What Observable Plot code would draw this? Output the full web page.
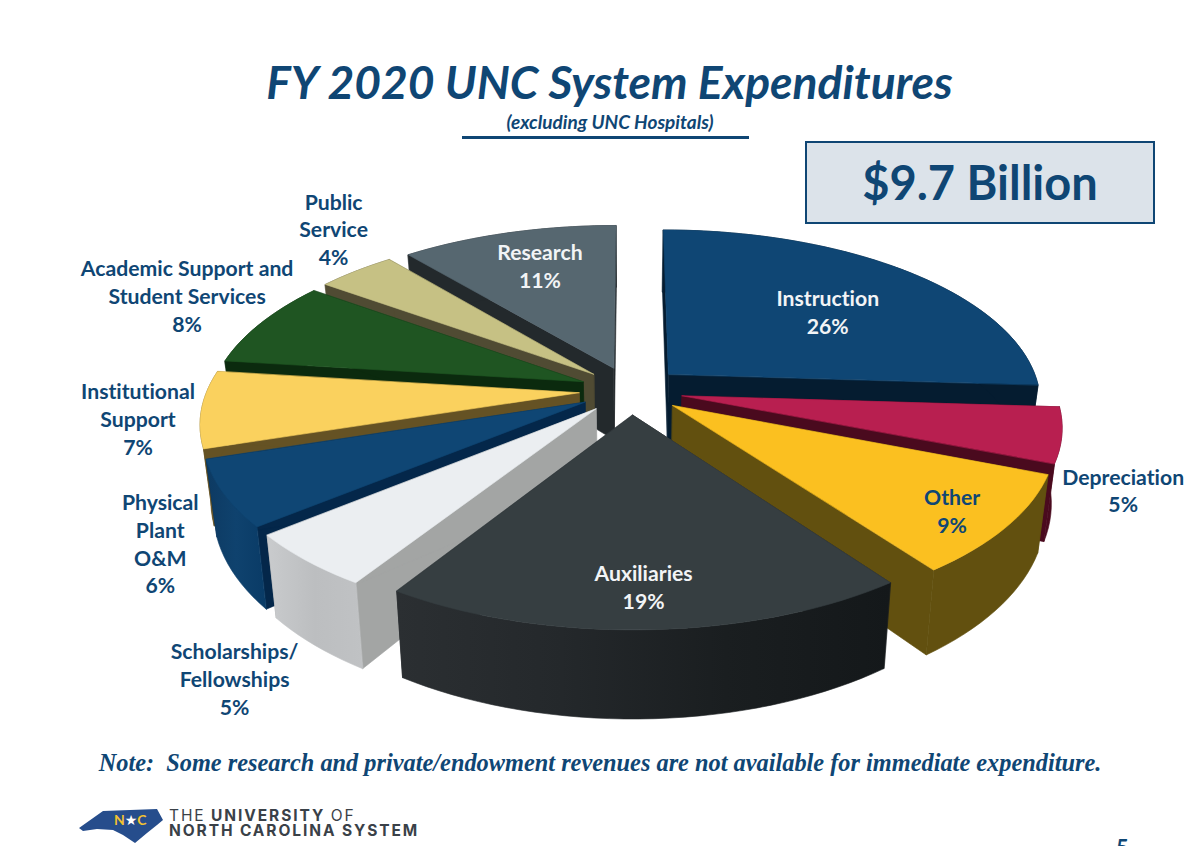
<!DOCTYPE html>
<html>
<head>
<meta charset="utf-8">
<script src="https://cdn.jsdelivr.net/npm/d3@7"></script>
<script src="https://cdn.jsdelivr.net/npm/@observablehq/plot@0.6"></script>
<style>
  html,body{margin:0;padding:0;background:#fff;width:1200px;height:846px;overflow:hidden;position:relative;font-variant-ligatures:none}
  #head{position:relative;height:135px}
  #title{position:absolute;left:0;width:1219px;top:51px;text-align:center;font:italic 700 46.2px Lato;color:#0f4674;line-height:60px}
  #sub{position:absolute;left:0;width:1220px;top:110px;text-align:center;font:italic 700 19px Lato;color:#0f4674;line-height:24px}
  #rule{position:absolute;left:462px;width:287px;top:136px;height:3px;background:#0f4674}
  #box{position:absolute;left:805px;top:141px;width:346px;height:79px;background:#dce3ea;border:2px solid #0f4674;text-align:center;font:700 47px/79px Lato;color:#0f4674}
  #chart{position:absolute;left:0;top:135px}
  #chart svg{display:block}
  #note{position:absolute;left:0;width:1200px;top:748px;text-align:center;font:italic 700 24.35px "Liberation Serif";color:#0f4674;line-height:30px}
  #logo{position:absolute;left:0;top:800px}
  .brand{position:absolute;left:169px;top:808px;font:700 15.5px/15px Inter;color:#3a4148;white-space:nowrap;letter-spacing:1.9px}
  .brand span{font-weight:400}
  #page{position:absolute;left:1116px;top:834px;font:700 22px Lato;color:#0f4674}
</style>
</head>
<body>
<div id="head">
  <div id="title">FY 2020 UNC System Expenditures</div>
  <div id="sub">(excluding UNC Hospitals)</div>
  <div id="rule"></div>
</div>
<div id="chart"></div>
<div id="box">$9.7 Billion</div>
<div id="note">Note:&nbsp; Some research and private/endowment revenues are not available for immediate expenditure.</div>
<svg id="logo" width="170" height="46" viewBox="0 800 170 46">
  <path d="M79 828 L103 811 L157 809 L163 820 L157 825 L147 833 L135 843 L123 835 L113 830 L97 829 L83 831 Z" fill="#264d8c"/>
  <text x="119.5" y="825" font-family="Lato" font-weight="700" font-size="14" fill="#f2c230" text-anchor="middle">N</text>
  <text x="131" y="825" font-family="DejaVu Sans" font-size="14" fill="#fff" text-anchor="middle">★</text>
  <text x="142" y="825" font-family="Lato" font-weight="700" font-size="14" fill="#f2c230" text-anchor="middle">C</text>
</svg>
<div class="brand"><span>THE</span> UNIVERSITY <span>OF</span><br>NORTH CAROLINA SYSTEM</div>
<div id="page">5</div>

<script>
// ---- data ----
const categories = ["Instruction","Depreciation","Other","Auxiliaries","Scholarships/\nFellowships",
  "Physical\nPlant\nO&M","Institutional\nSupport","Academic Support and\nStudent Services","Public\nService","Research"];
const shares = [26,5,9,19,5,6,7,8,4,11];
const topColors  = ["#0f4674","#b81f50","#fbc020","#363e41","#ebeef1","#0f4674","#fad15e","#1f5522","#c6c184","#566770"];
const sideColors = ["#051c30","#4a0a1e","#62500f","#23272a","#a3a5a4","#04274a","#655224","#0b2a0e","#504b33","#23292c"];
const rimColors  = ["#051c30","#4a0a1e","#62500f","url(#rimAux)","url(#rimSch)","url(#rimPhy)","#655224","#0b2a0e","#504b33","#23292c"];
const labelColors = ["#f2f4f6","#0f4674","#0f4674","#f2f4f6","#0f4674","#0f4674","#0f4674","#0f4674","#0f4674","#f2f4f6"];

// ---- view of the tilted pie ----
const view = {cx:630.5, cy:390, rx:372, ry:172, dist:6.3, explode:0.14, height:73, shrink:0.975};
// where each label sits: radius along the slice's middle, then a small nudge
const labelRadius = [0.6,1.16,0.86,0.81,1.16,1.21,1.16,1.16,1.16,0.71];
const labelNudge = [[11,1],[-2,48],[-4.5,3],[-0.5,3.5],[-18,89],[20,27.5],[-2,6],[-26,-19],[11.5,-28],[4,-3]];
// painter's order, back to front (indices into the arrays above)
const drawOrder = [9,0,8,7,6,5,1,2,4,3];

const rad = d => d * Math.PI / 180;
const total = d3.sum(shares);
const ends = d3.cumsum(shares).map(c => c / total * 360);
const slices = shares.map((s,i) => {
  const a0 = i ? ends[i-1] : 0, a1 = ends[i];
  return {i, a0, a1, mid:(a0+a1)/2};
});
function project(slice, angle, r, low) {
  const m = rad(slice.mid), t = rad(angle);
  const u = r*Math.sin(t) + view.explode*Math.sin(m);
  const v = -r*Math.cos(t) - view.explode*Math.cos(m);
  const s = view.dist/(view.dist - v);
  let X = u*s*view.rx, Y = v*s*view.ry;
  if (low) { X *= view.shrink; Y += view.height*s; }
  return [view.cx + X, view.cy + Y];
}
function arc(slice, low) {
  const n = Math.max(4, Math.ceil((slice.a1-slice.a0)/2));
  return d3.range(n+1).map(k => project(slice, slice.a0+(slice.a1-slice.a0)*k/n, 1, low));
}
const face = (pts, fill) => Plot.line(pts, {x:d=>d[0], y:d=>d[1], fill, stroke:fill, strokeWidth:0.6, curve:"linear-closed"});

const marks = [
  () => {
    const svg = d3.create("svg:defs");
    const grad = (id, stops) => {
      const g = svg.append("linearGradient").attr("id", id);
      stops.forEach((c,k) => g.append("stop").attr("offset", k/(stops.length-1)).attr("stop-color", c));
    };
    grad("rimAux", ["#2b2f32","#24282b","#1a1e20","#14181a"]);
    grad("rimSch", ["#c9cbcd","#bcbec0","#c0c2c4"]);
    grad("rimPhy", ["#0d3a62","#0f426e","#093b66"]);
    return svg.node();
  }
];
for (const idx of drawOrder) {
  const sl = slices[idx];
  const apexT = project(sl, 0, 0, false), apexB = project(sl, 0, 0, true);
  const topArc = arc(sl,false), lowArc = arc(sl,true);
  const first = topArc[0], last = topArc[topArc.length-1];
  const firstB = lowArc[0], lastB = lowArc[lowArc.length-1];
  marks.push(face([apexT, first, firstB, apexB], sideColors[idx]));
  marks.push(face([apexT, last, lastB, apexB], sideColors[idx]));
  marks.push(face([...topArc, ...lowArc.slice().reverse()], rimColors[idx]));
  marks.push(face([apexT, ...topArc], topColors[idx]));
}
const labels = slices.map(sl => {
  const p = project(sl, sl.mid, labelRadius[sl.i], false);
  return {x:p[0]+labelNudge[sl.i][0], y:p[1]+labelNudge[sl.i][1],
          text:`${categories[sl.i]}\n${shares[sl.i]}%`, color:labelColors[sl.i]};
});
marks.push(Plot.text(labels, {x:"x", y:"y", text:"text", fill:"color", fontFamily:"Lato", fontWeight:700, fontSize:21.2, lineHeight:1.31}));

const chart = Plot.plot({
  width:1200, height:610, margin:0,
  x:{domain:[0,1200], range:[0,1200], axis:null},
  y:{domain:[135,745], range:[0,610], axis:null},
  color:{type:"identity"},
  style:{background:"transparent"},
  marks
});
document.getElementById("chart").append(chart);
</script>
</body>
</html>
